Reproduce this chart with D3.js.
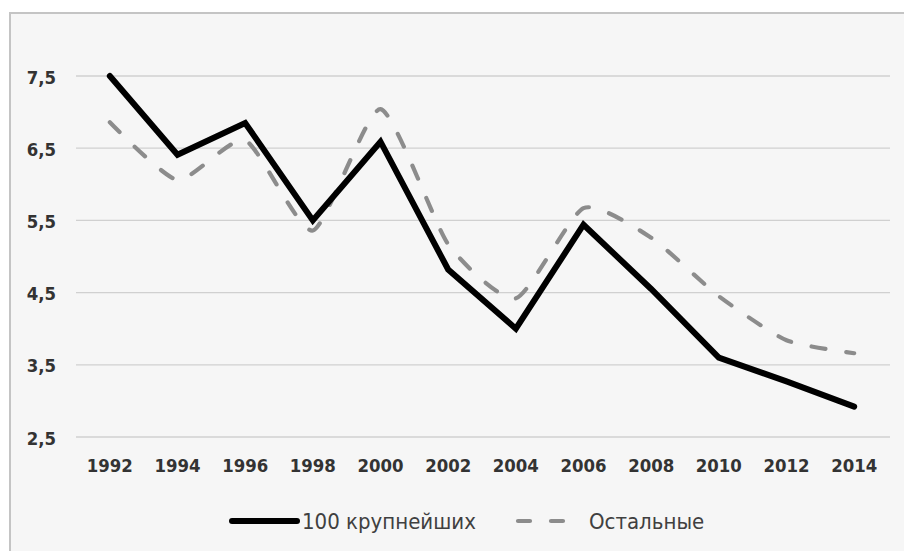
<!DOCTYPE html>
<html><head><meta charset="utf-8">
<script src="https://cdn.jsdelivr.net/npm/d3@7"></script>
<style>
html,body{margin:0;padding:0;background:#fff;}
svg{display:block;}
</style></head>
<body>
<svg id="chart" width="904" height="551"></svg>
<script>
const years = ["1992","1994","1996","1998","2000","2002","2004","2006","2008","2010","2012","2014"];
const top100 = [7.5, 6.41, 6.85, 5.5, 6.59, 4.82, 4.0, 5.44, 4.55, 3.6, 3.27, 2.92];
const others = [6.86, 6.06, 6.61, 5.36, 7.04, 5.17, 4.42, 5.67, 5.26, 4.45, 3.84, 3.66];
const yTicks = [2.5, 3.5, 4.5, 5.5, 6.5, 7.5];
const seriesNames = ["100 крупнейших", "Остальные"];

const svg = d3.select("#chart");
const font = "'DejaVu Sans Condensed','DejaVu Sans',sans-serif";

// chart frame
svg.append("rect").attr("x", 10).attr("y", 13).attr("width", 904).attr("height", 560)
  .attr("fill", "#f6f6f6").attr("stroke", "#c4c4c4").attr("stroke-width", 2);

const x = d3.scaleBand().domain(years).range([76, 888]);
const y = d3.scaleLinear().domain([2.5, 7.5]).range([437, 76]);

// grid
svg.append("g").selectAll("line").data(yTicks).join("line")
  .attr("x1", 76).attr("x2", 890)
  .attr("y1", d => y(d)).attr("y2", d => y(d))
  .attr("stroke", "#d0d0d0").attr("stroke-width", 1.3);

const fmt = d => d3.format(".1f")(d).replace(".", ",");

// y axis
const yAxis = svg.append("g").attr("transform", "translate(56,0)")
  .call(d3.axisLeft(y).tickValues(yTicks).tickFormat(fmt).tickSize(0).tickPadding(0));
yAxis.select(".domain").remove();
yAxis.selectAll("text").attr("font-family", font).attr("font-weight", "bold")
  .attr("font-size", 18.4).attr("fill", "#333").attr("dy", "0.38em");

// x axis
const xAxis = svg.append("g").attr("transform", "translate(0,459)")
  .call(d3.axisBottom(x).tickSize(0).tickPadding(0));
xAxis.select(".domain").remove();
xAxis.selectAll("text").attr("font-family", font).attr("font-weight", "bold")
  .attr("font-size", 18.4).attr("fill", "#333").attr("dy", "0.71em");

const cx = d => x(d) + x.bandwidth() / 2;

// others (smoothed, dashed)
svg.append("path")
  .datum(years.map((yr, i) => [cx(yr), y(others[i])]))
  .attr("d", d3.line().curve(d3.curveCardinal.tension(0.4)))
  .attr("fill", "none").attr("stroke", "#8c8c8c").attr("stroke-width", 4.2)
  .attr("stroke-dasharray", "14,21").attr("stroke-linecap", "round")
  .attr("stroke-linejoin", "round");

// top 100 (solid)
svg.append("path")
  .datum(years.map((yr, i) => [cx(yr), y(top100[i])]))
  .attr("d", d3.line())
  .attr("fill", "none").attr("stroke", "#000").attr("stroke-width", 6)
  .attr("stroke-linecap", "round").attr("stroke-linejoin", "miter");

// legend
const lg = svg.append("g");
lg.append("line").attr("x1", 232).attr("x2", 297).attr("y1", 521).attr("y2", 521)
  .attr("stroke", "#000").attr("stroke-width", 6).attr("stroke-linecap", "round");
lg.append("text").attr("x", 302).attr("y", 521).attr("dy", "0.36em")
  .attr("font-family", font)
  .attr("font-size", 22).attr("fill", "#404040").text(seriesNames[0]);
lg.append("line").attr("x1", 518).attr("x2", 566).attr("y1", 521).attr("y2", 521)
  .attr("stroke", "#8c8c8c").attr("stroke-width", 4.2).attr("stroke-linecap", "round")
  .attr("stroke-dasharray", "12,21");
lg.append("text").attr("x", 589).attr("y", 521).attr("dy", "0.36em")
  .attr("font-family", font)
  .attr("font-size", 22).attr("fill", "#404040").text(seriesNames[1]);
</script>
</body></html>
